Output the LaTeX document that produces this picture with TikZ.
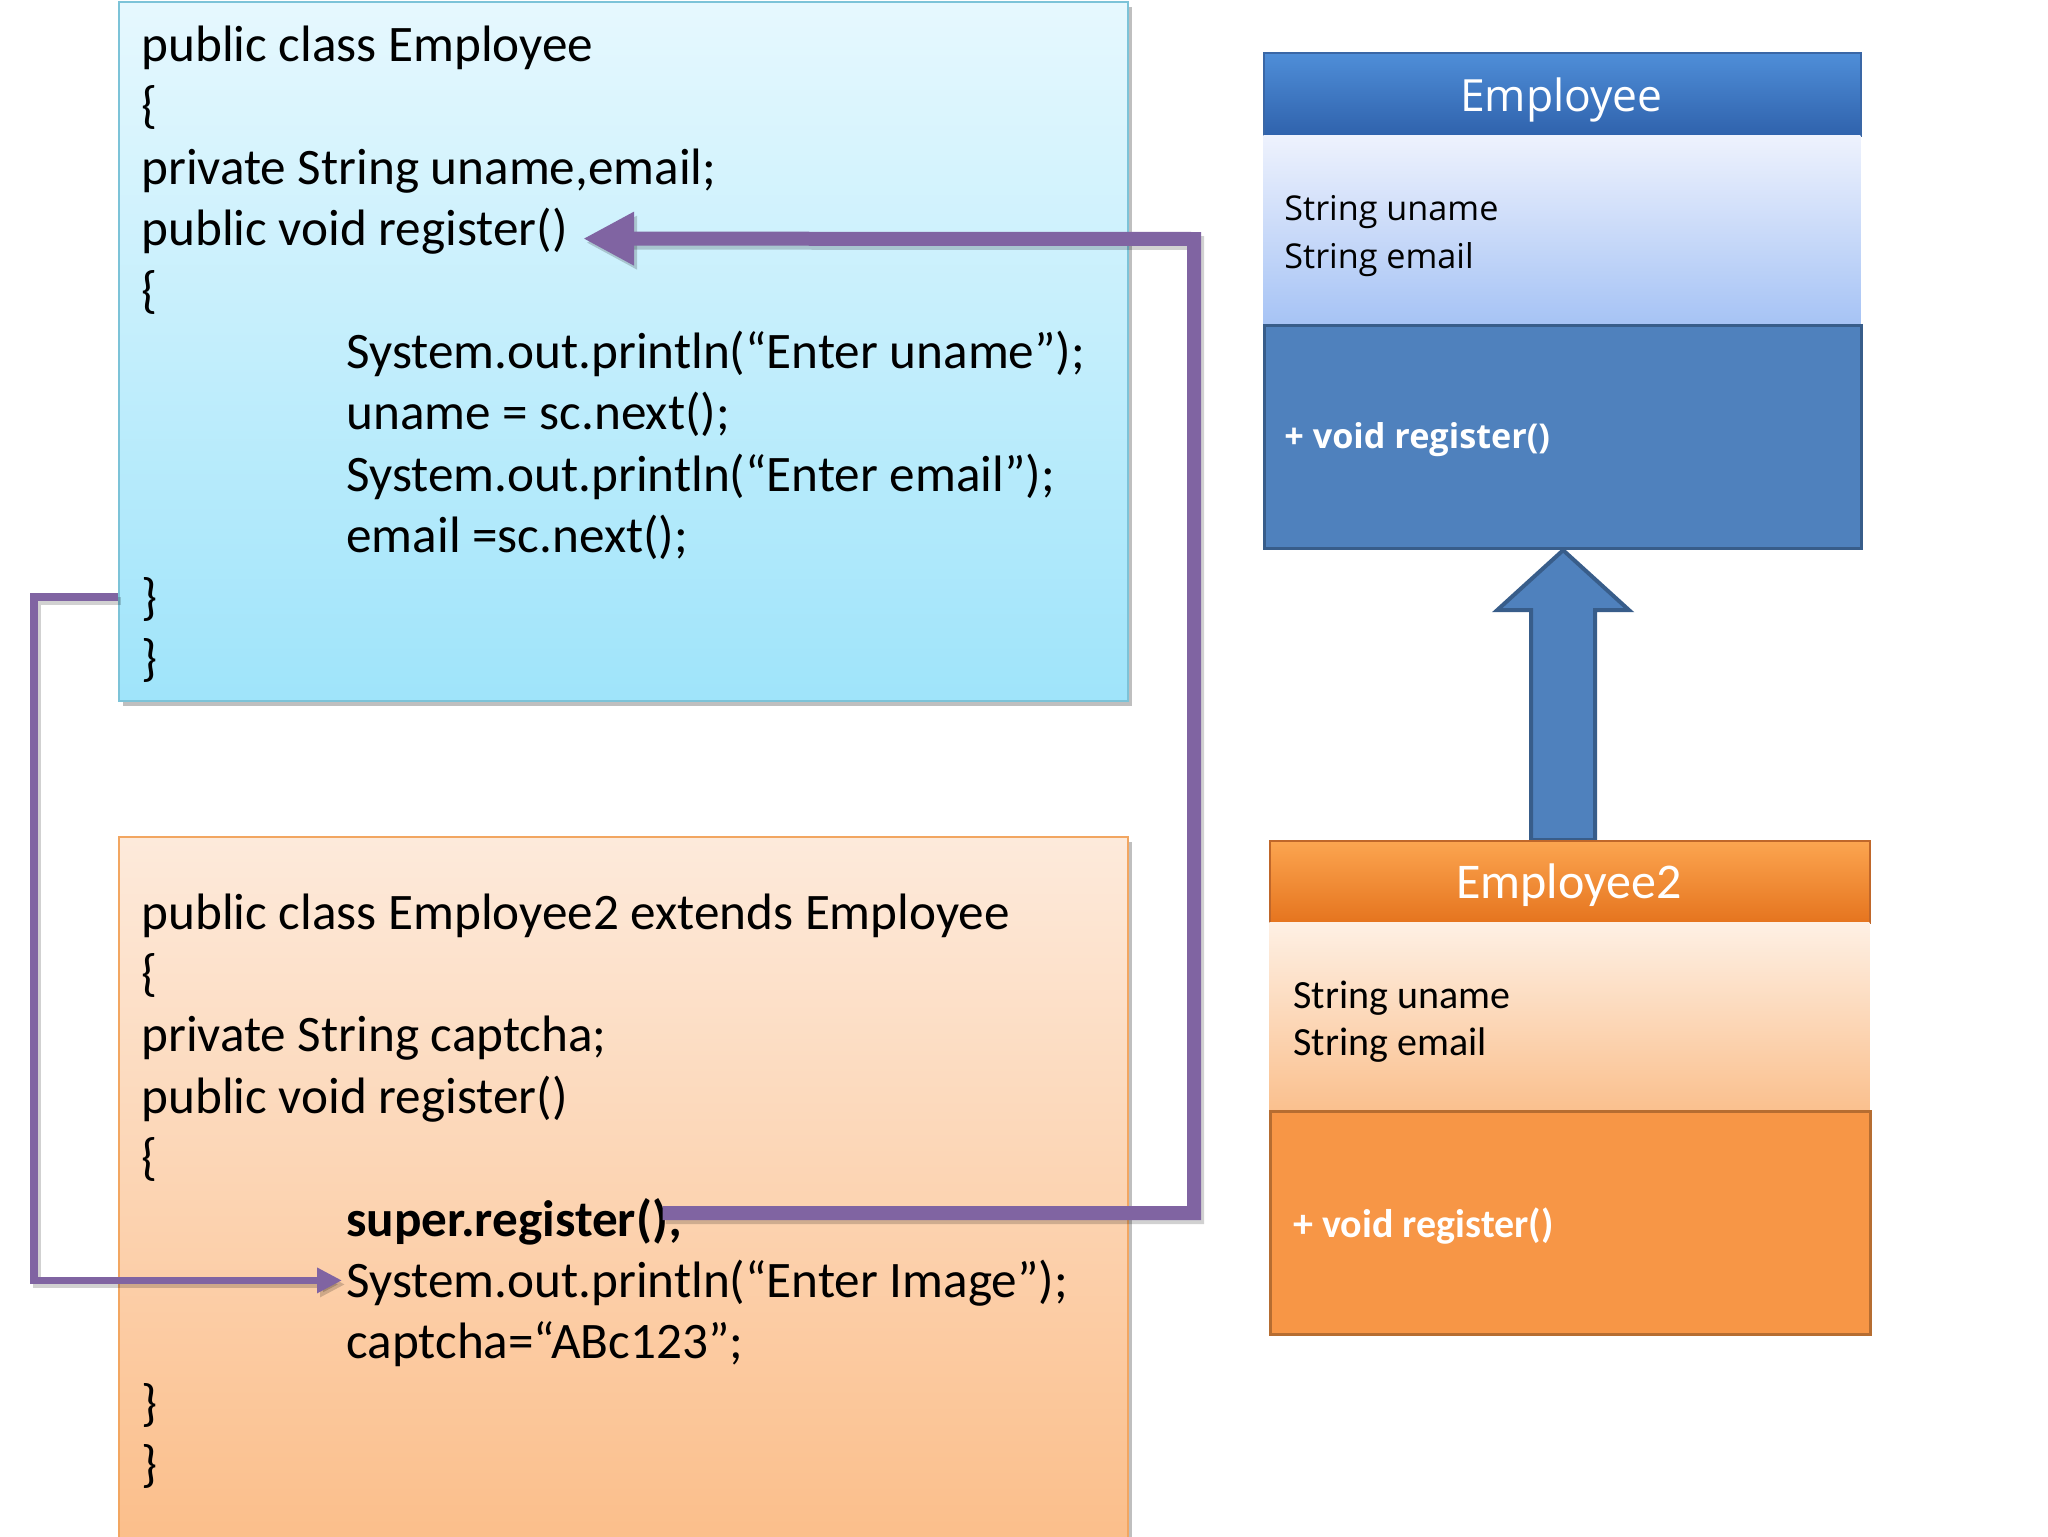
\documentclass[tikz,border=0pt]{standalone}
\usepackage{fontspec}
\setmainfont{Carlito}
\newfontfamily\umlfont{Open Sans}
\usetikzlibrary{arrows.meta,shadows,calc,backgrounds}

\definecolor{purp}{HTML}{8064A2}
\definecolor{bluetop}{HTML}{E6F8FE}
\definecolor{bluebot}{HTML}{9FE4FA}
\definecolor{blueedge}{HTML}{7CC3D8}
\definecolor{orgtop}{HTML}{FDEADB}
\definecolor{orgbot}{HTML}{FBBD88}
\definecolor{orgedge}{HTML}{F2A661}
\definecolor{hdrbluetop}{HTML}{4F8ED8}
\definecolor{hdrbluebot}{HTML}{2F62AC}
\definecolor{hdrblueedge}{HTML}{3A67A6}
\definecolor{attrbluetop}{HTML}{EEF2FD}
\definecolor{attrbluebot}{HTML}{A6C3F5}
\definecolor{methblue}{HTML}{4F81BD}
\definecolor{methblueedge}{HTML}{385D8A}
\definecolor{hdrorgtop}{HTML}{FCA550}
\definecolor{hdrorgbot}{HTML}{E5741E}
\definecolor{hdrorgedge}{HTML}{C0672A}
\definecolor{attrorgtop}{HTML}{FEF0E4}
\definecolor{attrorgbot}{HTML}{FAC08E}
\definecolor{methorg}{HTML}{F79646}
\definecolor{methorgedge}{HTML}{B66D31}

\newcommand\codefnt{\fontsize{25.6}{30}\selectfont}

\tikzset{
  codeline/.style={anchor=west, inner sep=0pt, font=\codefnt, text height=18pt, text depth=5pt},
  codebox/.style={anchor=north west, inner sep=0pt, minimum width=504.5pt, line width=1.2pt,
    drop shadow={shadow xshift=2pt, shadow yshift=-2.5pt, opacity=0.25, fill=black}},
  umlpart/.style={anchor=north west, inner sep=0pt},
  umltxt/.style={anchor=west, inner sep=0pt, text height=0.7em, text depth=0.2em},
  purpline/.style={draw=purp, line join=miter},
  shadline/.style={draw=black, opacity=0.18, line join=miter, transform canvas={shift={(1.5pt,-2pt)}}},
}

\begin{document}
\begin{tikzpicture}[x=0.5pt,y=-0.5pt]
\useasboundingbox (0,0) rectangle (2048,1536);

% code boxes
\node[codebox, minimum height=349.5pt, top color=bluetop, bottom color=bluebot, draw=blueedge] (code1) at (118,1) {};
\node[codebox, minimum height=362pt, top color=orgtop, bottom color=orgbot, draw=orgedge] (code2) at (118,836) {};

% blue code
\node[codeline] (b1) at (141,48.4) {public class Employee};
\node[codeline] (b2) at (141,109.8) {\{};
\node[codeline] (b3) at (141,171.2) {private String uname,email;};
\node[codeline] (b4) at (141,232.6) {public void register()};
\node[codeline] (b5) at (141,294) {\{};
\node[codeline] (b6) at (346,355.4) {System.out.println(“Enter uname”);};
\node[codeline] (b7) at (346,416.8) {uname = sc.next();};
\node[codeline] (b8) at (346,478.2) {System.out.println(“Enter email”);};
\node[codeline] (b9) at (346,539.6) {email =sc.next();};
\node[codeline] (b10) at (141,601) {\}};
\node[codeline] (b11) at (141,662.4) {\}};

% orange code
\node[codeline] (o1) at (141,916) {public class Employee2 extends Employee};
\node[codeline] (o2) at (141,977.4) {\{};
\node[codeline] (o3) at (141,1038.8) {private String captcha;};
\node[codeline] (o4) at (141,1100.2) {public void register()};
\node[codeline] (o5) at (141,1161.6) {\{};
\node[codeline] (o6) at (346,1223) {\textbf{super.register();}};
\node[codeline] (o7) at (346,1284.4) {System.out.println(“Enter Image”);};
\node[codeline] (o8) at (346,1345.8) {captcha=“ABc123”;};
\node[codeline] (o9) at (141,1407.2) {\}};
\node[codeline] (o10) at (141,1468.6) {\}};

% UML Employee
\node[umlpart, minimum width=298.5pt, minimum height=41.5pt, top color=hdrbluetop, bottom color=hdrbluebot, draw=hdrblueedge, line width=1pt] (e1head) at (1263,52) {};
\node[umlpart, minimum width=298.5pt, minimum height=94.5pt, top color=attrbluetop, bottom color=attrbluebot] (e1attr) at (1263,135) {};
\node[umlpart, minimum width=298.5pt, minimum height=111.5pt, fill=methblue, draw=methblueedge, line width=1.6pt] (e1meth) at (1263,324) {};
\node[font=\umlfont\fontsize{22.2}{26}\selectfont, text=white, inner sep=0pt] (e1title) at (1561.5,100) {Employee};
\node[umltxt, font=\umlfont\fontsize{17.1}{20}\selectfont] (e1a1) at (1284,215) {String uname};
\node[umltxt, font=\umlfont\fontsize{17.1}{20}\selectfont] (e1a2) at (1284,263) {String email};
\node[umltxt, font=\umlfont\bfseries\fontsize{17.1}{20}\selectfont, text=white] (e1m1) at (1284,443) {+ void register()};

% UML Employee2
\node[umlpart, minimum width=300pt, minimum height=41pt, top color=hdrorgtop, bottom color=hdrorgbot, draw=hdrorgedge, line width=1pt] (e2head) at (1269,840) {};
\node[umlpart, minimum width=300pt, minimum height=94pt, top color=attrorgtop, bottom color=attrorgbot] (e2attr) at (1269,922) {};
\node[umlpart, minimum width=300pt, minimum height=111.5pt, fill=methorg, draw=methorgedge, line width=1.6pt] (e2meth) at (1269,1110) {};
\node[font=\fontsize{25}{30}\selectfont, text=white, inner sep=0pt] (e2title) at (1569,885) {Employee2};
\node[umltxt, font=\fontsize{20}{24}\selectfont] (e2a1) at (1293,1003) {String uname};
\node[umltxt, font=\fontsize{20}{24}\selectfont] (e2a2) at (1293,1050) {String email};
\node[umltxt, font=\bfseries\fontsize{20}{24}\selectfont, text=white] (e2m1) at (1293,1232) {+ void register()};

% inheritance block arrow
\begin{scope}[on background layer]
\fill[white] (0,0) rectangle (2048,1536);
\coordinate (ahl) at ($(e1meth.south)+(-66,60)$);
\coordinate (asl) at ($(e1meth.south)+(-32,60)$);
\coordinate (asr) at ($(e1meth.south)+(32,60)$);
\coordinate (ahr) at ($(e1meth.south)+(66,60)$);
\draw[fill=methblue, draw=methblueedge, line width=2pt, line join=miter]
  (e1meth.south) -- (ahr) -- (asr) -- (asr |- e2head.north) -- (asl |- e2head.north) -- (asl) -- (ahl) -- cycle;
\end{scope}

% connectors
\coordinate (c1top) at (1194,239);
\coordinate (t1) at ([xshift=7.5pt,yshift=-3pt]b4.east);
\coordinate (s1) at ([xshift=-10pt,yshift=5pt]o6.east);
\draw[shadline, line width=7pt, -{Triangle[length=25.5pt,width=25pt]}] (s1) -| (c1top) -- (t1);
\draw[purpline, line width=7pt, -{Triangle[length=25.5pt,width=25pt]}] (s1) -| (c1top) -- (t1);

\coordinate (s2) at ([yshift=2pt]b10 -| code1.west);
\coordinate (t2) at ([xshift=-2pt,yshift=2pt]o7.west);
\draw[shadline, line width=3.8pt, -{Triangle[length=12.5pt,width=12pt]}] (s2) -- ++(-84,0) |- (t2);
\draw[purpline, line width=3.8pt, -{Triangle[length=12.5pt,width=12pt]}] (s2) -- ++(-84,0) |- (t2);
\end{tikzpicture}
\end{document}
